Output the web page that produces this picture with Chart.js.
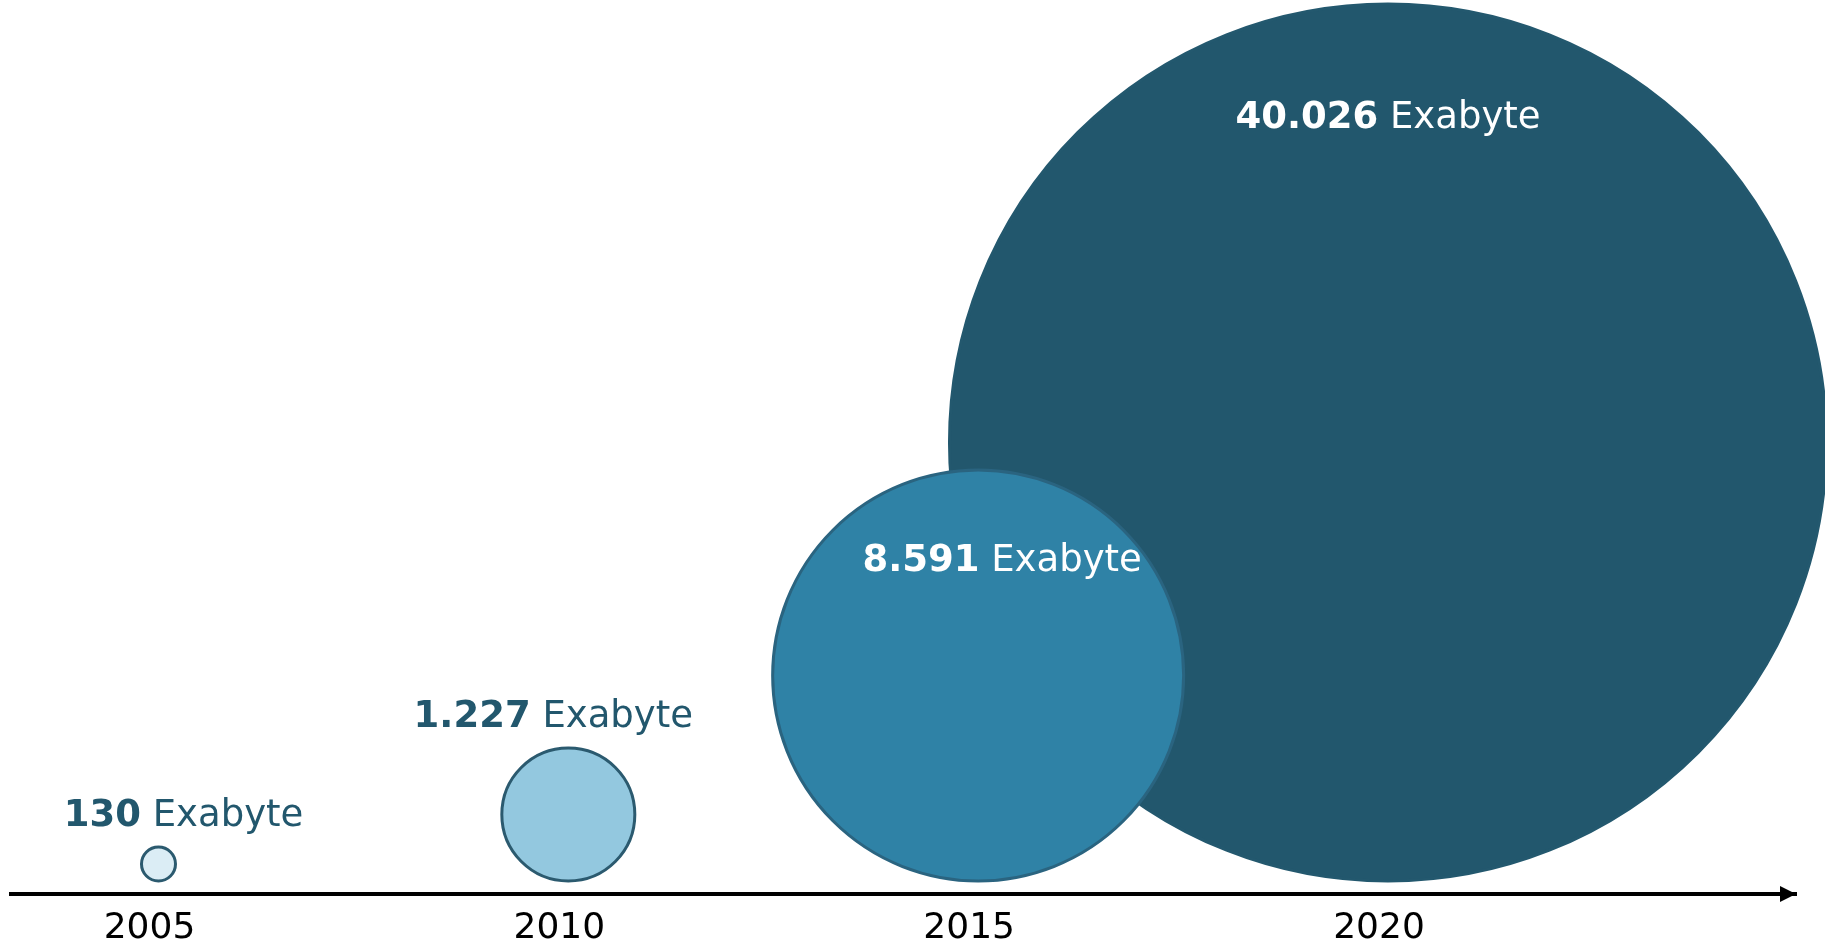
<!DOCTYPE html>
<html>
<head>
<meta charset="utf-8">
<script src="https://cdn.jsdelivr.net/npm/chart.js@4.4.1/dist/chart.umd.min.js"></script>
<style>
  html, body { margin: 0; padding: 0; background: #ffffff; }
  canvas { display: block; }
</style>
</head>
<body>
<canvas id="bubbleChart" width="1825" height="944"></canvas>
<script>
// Data
const years = [2005, 2010, 2015, 2020];
const exabytes = [130, 1227, 8591, 40026];
// bubble size (r) as drawn in the reference
const bubbleSize = [17, 66.5, 205.5, 438.5];
const unitLabel = 'Exabyte';

const fillColors = ['#dbedf5', '#93c8df', '#2f82a6', '#22576d'];
const borderColors = ['#2b5a6f', '#2b5a6f', '#2a6480', '#23586e'];
const labelColors = ['#22576d', '#22576d', '#ffffff', '#ffffff'];
// small horizontal nudge of each value label, as placed in the reference
const labelShiftX = [25, -15, 24, 0];

// gap between bubble bottoms and the time axis (y axis runs in pixels)
const baseGap = 13;

// German style thousands separator: 40026 -> 40.026
function formatValue(v) {
  return String(v).replace(/\B(?=(\d{3})+(?!\d))/g, '.');
}

// Draws the arrow head on the axis and the value labels
const labelPlugin = {
  id: 'valueLabels',
  afterDatasetsDraw(chart) {
    const ctx = chart.ctx;
    const area = chart.chartArea;

    ctx.save();
    ctx.fillStyle = '#000000';
    ctx.beginPath();
    ctx.moveTo(area.right, area.bottom);
    ctx.lineTo(area.right - 16, area.bottom - 8);
    ctx.lineTo(area.right - 16, area.bottom + 8);
    ctx.closePath();
    ctx.fill();

    ctx.textBaseline = 'alphabetic';
    ctx.textAlign = 'left';
    chart.data.datasets.forEach((ds, i) => {
      const el = chart.getDatasetMeta(i).data[0];
      const r = el.options.radius;
      const top = el.y - r;
      // small bubbles get the label above, big ones inside near the top
      const baseline = r > 100 ? top + 0.1 * r + 80 : top - 21;

      const boldText = formatValue(exabytes[i]);
      const normalText = ' ' + unitLabel;
      ctx.font = 'bold 37px "DejaVu Sans"';
      const wBold = ctx.measureText(boldText).width;
      ctx.font = '37px "DejaVu Sans"';
      const wNormal = ctx.measureText(normalText).width;
      const startX = el.x + labelShiftX[i] - (wBold + wNormal) / 2;

      ctx.fillStyle = labelColors[i];
      ctx.font = 'bold 37px "DejaVu Sans"';
      ctx.fillText(boldText, startX, baseline);
      ctx.font = '37px "DejaVu Sans"';
      ctx.fillText(normalText, startX + wBold, baseline);
    });
    ctx.restore();
  }
};

const ctx = document.getElementById('bubbleChart').getContext('2d');
const myChart = new Chart(ctx, {
  type: 'bubble',
  data: {
    datasets: years.map((year, i) => ({
      label: String(year),
      data: [{ x: year, y: bubbleSize[i] + baseGap, r: bubbleSize[i] }],
      backgroundColor: fillColors[i],
      borderColor: borderColors[i],
      borderWidth: 3,
      hoverRadius: 0,
      clip: false
    }))
  },
  options: {
    responsive: false,
    animation: false,
    layout: { autoPadding: false, padding: { left: 11, right: 29, top: 0, bottom: 0 } },
    plugins: {
      legend: { display: false },
      tooltip: { enabled: false },
      title: { display: false }
    },
    scales: {
      x: {
        type: 'linear',
        min: 2003.2005,
        max: 2024.978,
        afterBuildTicks: scale => { scale.ticks = years.map(v => ({ value: v })); },
        afterFit: scale => { scale.height = 50; },
        grid: { display: false, drawTicks: false },
        border: { display: true, color: '#000000', width: 4 },
        ticks: {
          color: '#000000',
          padding: 13,
          labelOffset: -9,
          autoSkip: false,
          maxRotation: 0,
          font: { family: 'DejaVu Sans', size: 36 },
          callback: v => String(v)
        }
      },
      y: {
        display: false,
        min: 0,
        max: 894
      }
    }
  },
  plugins: [labelPlugin]
});
</script>
</body>
</html>
